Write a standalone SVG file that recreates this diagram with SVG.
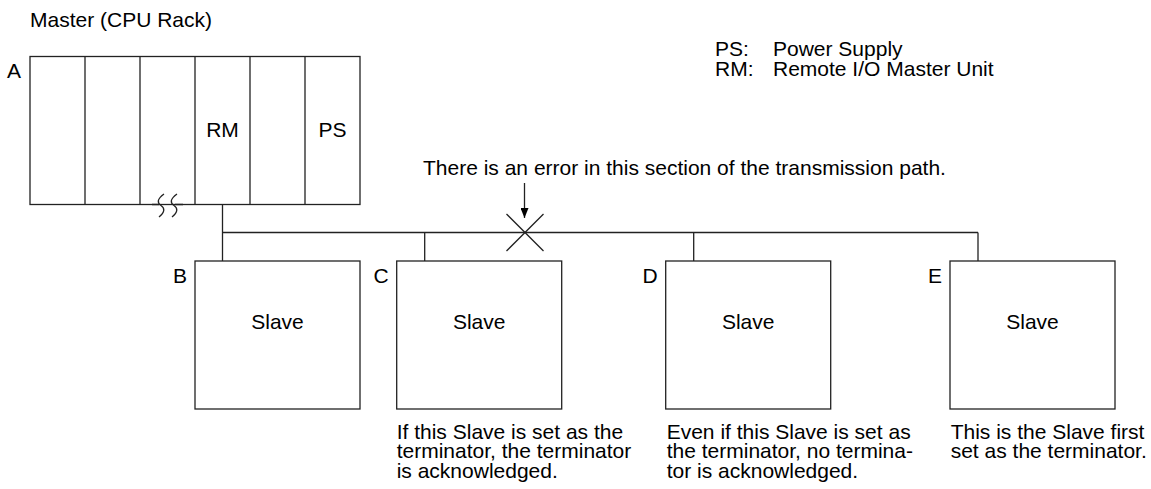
<svg xmlns="http://www.w3.org/2000/svg" width="1151" height="489" viewBox="0 0 1151 489">
  <defs>
    <style>
      text { font-family: "Liberation Sans", Arial, sans-serif; font-size: 21px; fill: #000; }
      .c { text-anchor: middle; }
      .e { text-anchor: end; }
      .ln { stroke: #222; stroke-width: 1.3; fill: none; }
      .box { stroke: #222; stroke-width: 1.3; fill: #fff; }
    </style>
    <marker id="ah" markerWidth="10" markerHeight="8" refX="10" refY="4" orient="auto" markerUnits="userSpaceOnUse" viewBox="0 0 10 8">
      <path d="M0,0 L10,4 L0,8 Z" fill="#000"/>
    </marker>
  </defs>
  <rect width="1151" height="489" fill="#fff"/>

  <text x="30" y="27">Master (CPU Rack)</text>
  <g id="legend">
    <text x="715" y="56">PS:</text>
    <text x="773" y="56">Power Supply</text>
    <text x="715" y="76">RM:</text>
    <text x="773" y="76">Remote I/O Master Unit</text>
  </g>

  <g id="master">
    <text x="7" y="78">A</text>
    <rect class="box" x="30" y="56.5" width="330" height="148"/>
    <path class="ln" d="M85,56.5V204.5M140,56.5V204.5M195,56.5V204.5M250,56.5V204.5M305,56.5V204.5"/>
    <path class="ln" d="M152,204.5H159M175,204.5H183" stroke-width="2.4"/>
    <path class="ln" d="M164,194 C157,199 157,203 161,205.5 C165,208 165,212 159,217 M177,194 C170,199 170,203 174,205.5 C178,208 178,212 172,217"/>
    <text class="c" x="222.5" y="137">RM</text>
    <text class="c" x="332.5" y="137">PS</text>
  </g>

  <g id="connectors">
    <path class="ln" d="M222.5,204.5V261M222.5,232.5H978M424.7,232.5V261M693.7,232.5V261M978,232.5V261"/>
    <path class="ln" d="M506.5,214 L543.5,251 M543.5,214 L506.5,251" stroke="#000" stroke-width="2"/>
    <path class="ln" d="M524.5,183 V218" marker-end="url(#ah)"/>
  </g>
  <text x="423" y="175">There is an error in this section of the transmission path.</text>

  <g id="slaveB">
    <rect class="box" x="195" y="261" width="165" height="148"/>
    <text class="e" x="187" y="283">B</text>
    <text class="c" x="277.5" y="329">Slave</text>
  </g>
  <g id="slaveC">
    <rect class="box" x="396.7" y="261" width="165" height="148"/>
    <text class="e" x="388.7" y="283">C</text>
    <text class="c" x="479.2" y="329">Slave</text>
    <text x="396.7" y="438.5">If this Slave is set as the</text>
    <text x="396.7" y="458">terminator, the terminator</text>
    <text x="396.7" y="477.5">is acknowledged.</text>
  </g>
  <g id="slaveD">
    <rect class="box" x="665.7" y="261" width="165" height="148"/>
    <text class="e" x="657.7" y="283">D</text>
    <text class="c" x="748.2" y="329">Slave</text>
    <text x="666.7" y="438.5">Even if this Slave is set as</text>
    <text x="666.7" y="458">the terminator, no termina-</text>
    <text x="666.7" y="477.5">tor is acknowledged.</text>
  </g>
  <g id="slaveE">
    <rect class="box" x="950" y="261" width="165" height="148"/>
    <text class="e" x="942" y="283">E</text>
    <text class="c" x="1032.5" y="329">Slave</text>
    <text x="950.7" y="438.5">This is the Slave first</text>
    <text x="950.7" y="458">set as the terminator.</text>
  </g>
</svg>
